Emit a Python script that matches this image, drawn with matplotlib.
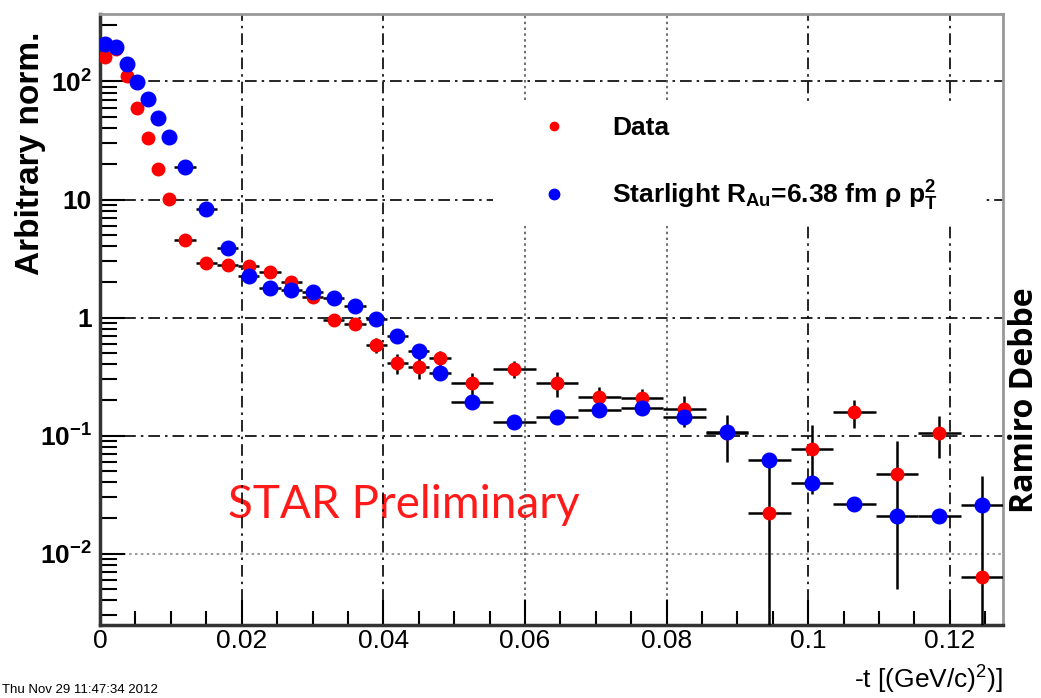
import matplotlib
matplotlib.use('Agg')
import matplotlib.pyplot as plt
from matplotlib.lines import Line2D
from matplotlib.ticker import MultipleLocator, LogLocator, FixedLocator, FixedFormatter, NullFormatter

plt.rcParams['font.family'] = ['Liberation Sans', 'DejaVu Sans']
plt.rcParams['mathtext.fontset'] = 'custom'
plt.rcParams['mathtext.rm'] = 'Liberation Sans'
plt.rcParams['mathtext.bf'] = 'Liberation Sans:bold'
plt.rcParams['mathtext.it'] = 'Liberation Sans:italic'

# -t bin centres and half widths
t = [0.00075, 0.00225, 0.00375, 0.00525, 0.00675, 0.00825, 0.00975,
     0.012, 0.015, 0.018, 0.021, 0.024, 0.027, 0.030, 0.033, 0.036, 0.039,
     0.042, 0.045, 0.048,
     0.0525, 0.0585, 0.0645, 0.0705, 0.0765, 0.0825, 0.0885, 0.0945,
     0.1005, 0.1065, 0.1125, 0.1185, 0.1245]
t_half = [0.00075, 0.00075, 0.00075, 0.00075, 0.00075, 0.00075, 0.00075,
          0.0015, 0.0015, 0.0015, 0.0015, 0.0015, 0.0015, 0.0015, 0.0015,
          0.0015, 0.0015, 0.0015, 0.0015, 0.0015,
          0.003, 0.003, 0.003, 0.003, 0.003, 0.003, 0.003, 0.003,
          0.003, 0.003, 0.003, 0.003, 0.003]

# STAR data
data = [161, 190, 111, 59.6, 33.2, 18.1, 10.1,
        4.54, 2.90, 2.79, 2.74, 2.43, 2.00, 1.49, 0.95, 0.88, 0.585,
        0.41, 0.38, 0.454,
        0.279, 0.366, 0.279, 0.212, 0.208, 0.168, 0.105, 0.022,
        0.077, 0.158, 0.047, 0.105, 0.0063]
data_err = [4, 4, 3, 2, 1.5, 1.0, 0.6,
            0.3, 0.2, 0.18, 0.17, 0.15, 0.13, 0.11, 0.09, 0.08, 0.08,
            0.08, 0.08, 0.07,
            0.06, 0.06, 0.065, 0.045, 0.04, 0.05, 0.045, 0.04,
            0.045, 0.042, 0.042, 0.04, 0.039]

# Starlight simulation
starlight = [208, 196, 141, 99, 71, 49, 33.9,
             18.9, 8.3, 3.88, 2.25, 1.78, 1.71, 1.64, 1.46, 1.25, 0.97,
             0.70, 0.52, 0.339,
             0.192, 0.130, 0.144, 0.164, 0.171, 0.144, 0.107, 0.062,
             0.0396, 0.0263, 0.0208, 0.0208, 0.0259]

fig = plt.figure(figsize=(10.41, 6.98), dpi=100)
ax = fig.add_axes([0.0961, 0.1046, 0.8674, 0.8753])

ax.set_yscale('log')
ax.set_xlim(0, 0.1275)
ax.set_ylim(0.00248, 373)

# grid lines, ROOT style
for yv in [100, 10, 1, 0.1]:
    ax.axhline(yv, color='black', lw=1.2, ls=(0, (7, 3, 1.5, 3)), zorder=1)
ax.axhline(0.01, color='#888888', lw=1.2, ls=(0, (1.5, 2)), zorder=1)
for xv in [0.02, 0.04, 0.1, 0.12]:
    ax.axvline(xv, color='black', lw=1.2, ls=(0, (7, 3, 1.5, 3)), zorder=1)
for xv in [0.06, 0.08]:
    ax.axvline(xv, color='#555555', lw=1.2, ls=(0, (1.5, 2)), zorder=1)

ax.text(0.336, 0.196, 'STAR Preliminary', transform=ax.transAxes, color='#ff1a1a',
        fontsize=33, family='Lato', ha='center', va='center', zorder=0)

ax.errorbar(t, data, xerr=t_half, yerr=data_err, fmt='o', color='red', ms=9,
            ecolor='black', elinewidth=1.8, capsize=0, zorder=3)
ax.errorbar(t, starlight, xerr=t_half, fmt='o', color='blue', ms=10.5,
            ecolor='black', elinewidth=1.8, capsize=0, zorder=4)

handles = [Line2D([], [], marker='o', ls='none', color='red', ms=6),
           Line2D([], [], marker='o', ls='none', color='blue', ms=7.5)]
labels = ['Data', r'Starlight R$_{\mathbf{Au}}$=6.38 fm ρ p$_{\mathbf{T}}^{\mathbf{2}}$']
ax.legend(handles, labels, loc='upper left', bbox_to_anchor=(0.421, 0.638, 0.57, 0.238),
          mode='expand', frameon=True, facecolor='white', edgecolor='none', framealpha=1,
          fancybox=False, prop={'size': 19, 'weight': 'bold'},
          handlelength=3.6, handletextpad=0.4, borderpad=0.5, labelspacing=1.45)

# ticks
ax.set_xticks([0, 0.02, 0.04, 0.06, 0.08, 0.1, 0.12])
ax.set_xticklabels(['0', '0.02', '0.04', '0.06', '0.08', '0.1', '0.12'])
ax.xaxis.set_minor_locator(MultipleLocator(0.005))
ax.yaxis.set_major_locator(FixedLocator([0.01, 0.1, 1, 10, 100]))
ax.yaxis.set_major_formatter(FixedFormatter([r'$\mathbf{10^{-2}}$', r'$\mathbf{10^{-1}}$',
                                             '1', '10', r'$\mathbf{10^{2}}$']))
ax.yaxis.set_minor_locator(LogLocator(base=10, subs=[2, 3, 4, 5, 6, 7, 8, 9]))
ax.yaxis.set_minor_formatter(NullFormatter())

ax.tick_params(axis='x', which='major', direction='in', length=18, width=1.5,
               labelsize=19, pad=3, top=False)
ax.tick_params(axis='x', which='minor', direction='in', length=10, width=1.5, top=False)
ax.tick_params(axis='y', which='major', direction='in', length=18, width=1.5,
               labelsize=19, pad=6, right=False)
ax.tick_params(axis='y', which='minor', direction='in', length=12, width=1.5, right=False)
for lab in ax.get_yticklabels():
    lab.set_fontweight('bold')

for side in ['left', 'bottom']:
    ax.spines[side].set_linewidth(2.5)
    ax.spines[side].set_color('#333333')
for side in ['right', 'top']:
    ax.spines[side].set_linewidth(2.0)
    ax.spines[side].set_color('#999999')

fig.text(0.029, 0.78, 'Arbitrary norm.', rotation=90, ha='center', va='center',
         fontsize=24, fontweight='bold')
fig.text(0.984, 0.427, 'Ramiro Debbe', rotation=90, ha='center', va='center',
         fontsize=23, fontweight='bold', family='Open Sans')
fig.text(0.9635, 0.026, r'-t [(GeV/c)$^{2}$)]', ha='right', va='center', fontsize=19)
fig.text(0.002, 0.012, 'Thu Nov 29 11:47:34 2012', ha='left', va='center', fontsize=9.5)

fig.savefig('out.png', dpi=100)
